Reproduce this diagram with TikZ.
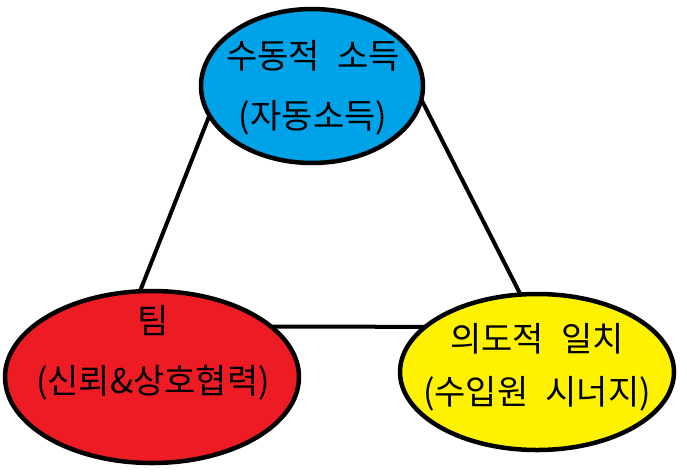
\documentclass[tikz,border=0pt]{standalone}
\usepackage{fontspec}
\newfontfamily\kofont{Noto Sans CJK KR}
\usetikzlibrary{shapes.geometric,positioning}
\definecolor{paintblue}{RGB}{0,162,232}
\definecolor{paintred}{RGB}{237,28,36}
\definecolor{paintyellow}{RGB}{255,242,0}
\newcommand{\wsp}{\hspace{0.5em}}

\begin{document}
\begin{tikzpicture}[x=1pt,y=-1pt]
		\useasboundingbox (0,0) rectangle (687,472);

		\begin{scope}[every node/.style={ellipse,draw,line width=4.5pt,inner sep=0pt,outer sep=0pt}]
			\node[fill=paintblue,minimum width=222pt,minimum height=154pt] (passiv) at (312,86) {};
			\node[fill=paintred,minimum width=294pt,minimum height=172pt] (team) at (152,377) {};
			\node[fill=paintyellow,minimum width=274pt,minimum height=156pt] (absicht) at (537,372) {};
		\end{scope}

		\begin{scope}[every node/.style={align=center,font=\kofont\fontsize{34}{60}\selectfont}]
			\node (passivtxt) at (313,88) {수동적\wsp 소득\\(자동소득)};
			\node (teamtxt) at (153,353) {팀\\(신뢰\&상호협력)};
			\node (absichttxt) at (537,367) {의도적\wsp 일치\\[-7pt](수입원\wsp 시너지)};
		\end{scope}

		\begin{scope}[line width=4pt]
			\path (passiv.196) edge node {} (team.98);
			\path (passiv.353) edge node {} (absicht.102);
			\path (team.23) edge node {} (absicht.158);
		\end{scope}
	\end{tikzpicture}
\end{document}
